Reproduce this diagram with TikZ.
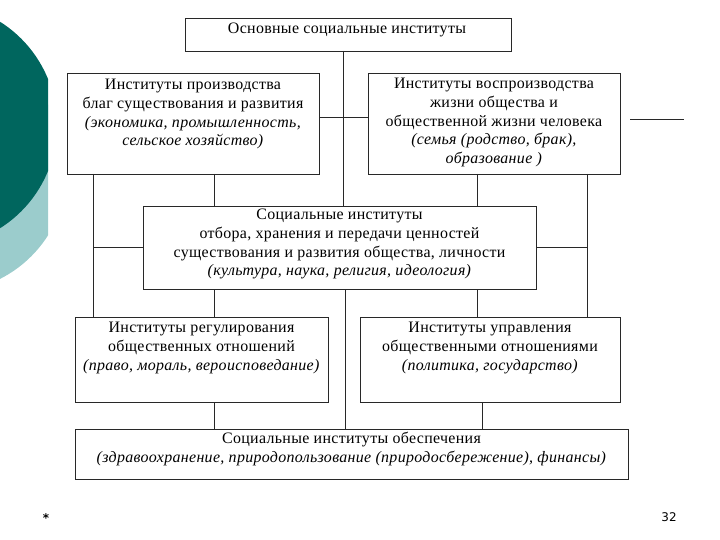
\documentclass[tikz,border=0pt]{standalone}
\usepackage{fontspec}
\setmainfont[LetterSpace=2]{Liberation Serif}
\newfontfamily\footfont{DejaVu Sans}
\definecolor{darkteal}{RGB}{0,102,94}
\definecolor{lightteal}{RGB}{155,204,204}
\definecolor{linegray}{RGB}{40,40,40}
\begin{document}
\begin{tikzpicture}[x=1bp,y=-1bp,
  box/.style={draw=linegray, line width=0.9bp, inner sep=0pt, outer sep=0pt, fill=white},
  txt/.style={align=center, inner sep=0pt, anchor=north, font=\fontsize{16}{19}\selectfont},
  conn/.style={draw=linegray, line width=0.9bp},
  foot/.style={inner sep=0pt, font=\footfont\fontsize{12}{14}\selectfont}]
\useasboundingbox (0,0) rectangle (720,540);
% slide decoration
\begin{scope}
  \clip (0,0) rectangle (48,540);
  \fill[lightteal] (-55,170) circle[radius=122bp];
  \fill[darkteal] (-65,125) circle[radius=122bp];
\end{scope}
% helper coordinates
\coordinate (xA) at (93,0);
\coordinate (xB) at (214,0);
\coordinate (xC) at (343,0);
\coordinate (xD) at (345,0);
\coordinate (xE) at (477,0);
\coordinate (xF) at (482,0);
\coordinate (xG) at (587,0);
\coordinate (yH) at (0,117);
\coordinate (s1) at (630,119);
\coordinate (s2) at (684,119);
% boxes
\node[box, minimum width=326bp, minimum height=33bp] (T) at (348,34.5) {};
\node[box, minimum width=252bp, minimum height=101bp] (L1) at (193,123.5) {};
\node[box, minimum width=252bp, minimum height=101bp] (R1) at (494,123.5) {};
\node[box, minimum width=393bp, minimum height=83bp] (C) at (339.5,247.5) {};
\node[box, minimum width=253bp, minimum height=85bp] (L2) at (201.5,359.5) {};
\node[box, minimum width=260bp, minimum height=85bp] (R2) at (490,359.5) {};
\node[box, minimum width=553bp, minimum height=50bp] (B) at (351.5,454) {};
% connectors
\draw[conn] (T.south -| xC) -- (C.north -| xC);
\draw[conn] (L1.east |- yH) -- (R1.west |- yH);
\draw[conn] (L1.south -| xA) -- (L2.north -| xA);
\draw[conn] (C.west) -- (C.west -| xA);
\draw[conn] (L1.south -| xB) -- (C.north -| xB);
\draw[conn] (C.south -| xB) -- (L2.north -| xB);
\draw[conn] (L2.south -| xB) -- (B.north -| xB);
\draw[conn] (R1.south -| xE) -- (C.north -| xE);
\draw[conn] (C.south -| xE) -- (R2.north -| xE);
\draw[conn] (R1.south -| xG) -- (R2.north -| xG);
\draw[conn] (C.east) -- (C.east -| xG);
\draw[conn] (C.south -| xD) -- (B.north -| xD);
\draw[conn] (R2.south -| xF) -- (B.north -| xF);
\draw[conn] (s1) -- (s2);
% texts
\node[txt] (tT) at (347,19.7) {\strut Основные социальные институты};
\node[txt] (tL1) at (193,75.7) {\strut Институты производства\\благ существования и развития\\\textit{(экономика, промышленность,}\\\textit{сельское хозяйство)}};
\node[txt] (tR1) at (494,74.7) {\strut Институты воспроизводства\\жизни общества и\\общественной жизни человека\\\textit{(семья (родство, брак),}\\\textit{образование )}};
\node[txt] (tC) at (339.5,205.7) {\strut Социальные институты\\отбора, хранения и передачи ценностей\\существования и развития общества, личности\\\textit{(культура, наука, религия, идеология)}};
\node[txt] (tL2) at (201.5,318.7) {\strut Институты регулирования\\общественных отношений\\\textit{(право, мораль, вероисповедание)}};
\node[txt] (tR2) at (490,318.7) {\strut Институты управления\\общественными отношениями\\\textit{(политика, государство)}};
\node[txt] (tB) at (351.5,429.7) {\strut Социальные институты обеспечения\\\textit{(здравоохранение, природопользование (природосбережение), финансы)}};
% footer
\node[foot, font=\footfont\bfseries\fontsize{12}{14}\selectfont] (star) at (46,518) {*};
\node[foot] (num) at (669,517) {32};
\end{tikzpicture}
\end{document}
